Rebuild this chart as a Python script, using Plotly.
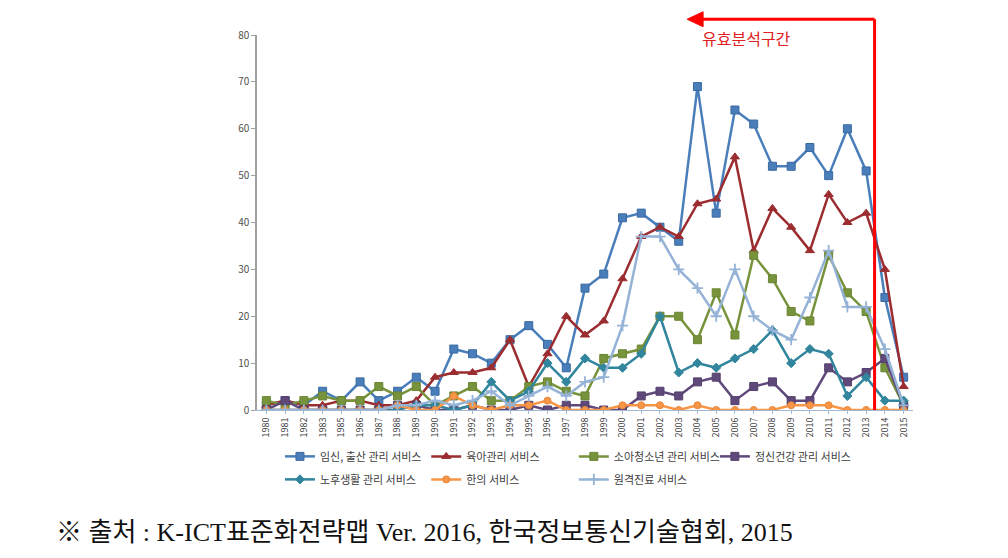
import plotly.graph_objects as go

years = ["1980", "1981", "1982", "1983", "1985", "1986", "1987", "1988", "1989", "1990",
         "1991", "1992", "1993", "1994", "1995", "1996", "1997", "1998", "1999", "2000",
         "2001", "2002", "2003", "2004", "2005", "2006", "2007", "2008", "2009", "2010",
         "2011", "2012", "2013", "2014", "2015"]

pregnancy = [1, 2, 1, 4, 2, 6, 2, 4, 7, 4, 13, 12, 10, 15, 18, 14, 9, 26, 29, 41,
             42, 39, 36, 69, 42, 64, 61, 52, 52, 56, 50, 60, 51, 24, 7]
childcare = [1, 2, 1, 1, 2, 2, 1, 1, 2, 7, 8, 8, 9, 15, 5, 12, 20, 16, 19, 28,
             37, 39, 37, 44, 45, 54, 34, 43, 39, 34, 46, 40, 42, 30, 5]
youth = [2, 1, 2, 3, 2, 2, 5, 3, 5, 1, 3, 5, 2, 2, 5, 6, 4, 3, 11, 12,
         13, 20, 20, 15, 25, 16, 33, 28, 21, 19, 33, 25, 21, 9, 1]
mental = [0, 2, 0, 0, 0, 0, 0, 1, 1, 0, 0, 1, 0, 0, 1, 0, 1, 1, 0, 0,
          3, 4, 3, 6, 7, 2, 5, 6, 2, 2, 9, 6, 8, 11, 1]
elderly = [0, 0, 0, 0, 0, 0, 0, 0, 1, 1, 0, 1, 6, 2, 4, 10, 6, 11, 9, 9,
           12, 20, 8, 10, 9, 11, 13, 17, 10, 13, 12, 3, 7, 2, 2]
oriental = [0, 0, 0, 0, 0, 0, 0, 1, 0, 0, 3, 1, 0, 1, 1, 2, 0, 0, 0, 1,
            1, 1, 0, 1, 0, 0, 0, 0, 1, 1, 1, 0, 0, 0, 0]
telemed = [0, 0, 0, 0, 0, 0, 0, 1, 1, 2, 1, 2, 4, 1, 3, 5, 3, 6, 7, 18,
           37, 37, 30, 26, 20, 30, 20, 17, 15, 24, 34, 22, 22, 13, 1]

series_names = ["임신, 출산 관리 서비스", "육아관리 서비스", "소아청소년 관리 서비스", "정신건강 관리 서비스",
                "노후생활 관리 서비스", "한의 서비스", "원격진료 서비스"]
y_ticks = [0, 10, 20, 30, 40, 50, 60, 70, 80]
range_label = "유효분석구간"
source_text = "※ 출처 : K-ICT표준화전략맵 Ver. 2016, 한국정보통신기술협회, 2015"

styles = [
    dict(color="#4A7EBB", symbol="square", size=8, edge="#3A6AA0"),
    dict(color="#9B2D30", symbol="triangle-up", size=8, edge="#9B2D30"),
    dict(color="#77933C", symbol="square", size=8, edge="#6A8434"),
    dict(color="#5F497A", symbol="square", size=8, edge="#54406C"),
    dict(color="#31859C", symbol="diamond", size=7, edge="#31859C"),
    dict(color="#F79646", symbol="circle", size=7, edge="#E8863A"),
    dict(color="#95B3D7", symbol="cross-thin-open", size=8, edge="#95B3D7"),
]
values = [pregnancy, childcare, youth, mental, elderly, oriental, telemed]
# legend column for each series (4 columns, 2 rows)
legend_ids = ["legend", "legend2", "legend3", "legend4", "legend", "legend2", "legend3"]

fig = go.Figure()
for i, (name, vals, st) in enumerate(zip(series_names, values, styles)):
    marker = dict(symbol=st["symbol"], size=st["size"], color=st["color"],
                  line=dict(color=st["edge"], width=1 if "open" not in st["symbol"] else 1.8))
    fig.add_trace(go.Scatter(x=years, y=vals, name=name, mode="lines+markers",
                             line=dict(color=st["color"], width=2.5), marker=marker,
                             legend=legend_ids[i], legendgroup=f"g{i}"))

idx_line = years.index("2013") + 0.45
idx_tip = 22.45
y_top = 1.042

fig.add_shape(type="line", xref="x", yref="paper", x0=idx_line, x1=idx_line, y0=0, y1=y_top,
              line=dict(color="#FF0000", width=3))
fig.add_shape(type="line", xref="x", yref="paper", x0=idx_tip + 0.6, x1=idx_line, y0=y_top, y1=y_top,
              line=dict(color="#FF0000", width=3))
fig.add_shape(type="path", xref="x", yref="paper",
              path=f"M {idx_tip} {y_top} L {idx_tip + 0.85} {y_top + 0.02} L {idx_tip + 0.85} {y_top - 0.02} Z",
              fillcolor="#FF0000", line=dict(color="#FF0000", width=1))

fig.add_annotation(x=25.6, y=0.992, xref="x", yref="paper", yanchor="middle", text=range_label,
                   showarrow=False, font=dict(size=16, color="#E02020", family="Noto Sans CJK KR"))

fig.add_annotation(x=-0.31, y=-0.327, xref="paper", yref="paper", xanchor="left", yanchor="middle",
                   text=source_text, showarrow=False,
                   font=dict(size=26, color="#111111", family="Liberation Serif, Noto Sans CJK KR"))

leg_common = dict(orientation="v", y=-0.085, xanchor="left", yanchor="top",
                  font=dict(size=11, color="#404040"), itemwidth=30,
                  bgcolor="rgba(0,0,0,0)", tracegroupgap=4)
fig.update_layout(
    width=1008, height=558,
    margin=dict(l=249, r=103, t=27, b=156),
    paper_bgcolor="white", plot_bgcolor="white",
    font=dict(family="Noto Sans CJK KR, Noto Sans", color="#404040"),
    showlegend=True,
    legend=dict(x=0.035, **leg_common),
    legend2=dict(x=0.258, **leg_common),
    legend3=dict(x=0.483, **leg_common),
    legend4=dict(x=0.698, **leg_common),
)
fig.update_xaxes(type="category", range=[-0.5, len(years) - 0.5], tickangle=-90,
                 tickfont=dict(size=9, color="#404040"), showline=True, linecolor="#A6B8D0",
                 linewidth=1, ticks="outside", ticklen=3, tickcolor="#A6B8D0", showgrid=False,
                 zeroline=False)
fig.update_yaxes(range=[0, 80], tickvals=y_ticks, tickfont=dict(size=10, color="#505050"),
                 showline=True, linecolor="#A0A0A0", linewidth=1.5, ticks="outside", ticklen=4,
                 tickcolor="#A0A0A0", showgrid=False, zeroline=False)

fig.write_html("out.html")
